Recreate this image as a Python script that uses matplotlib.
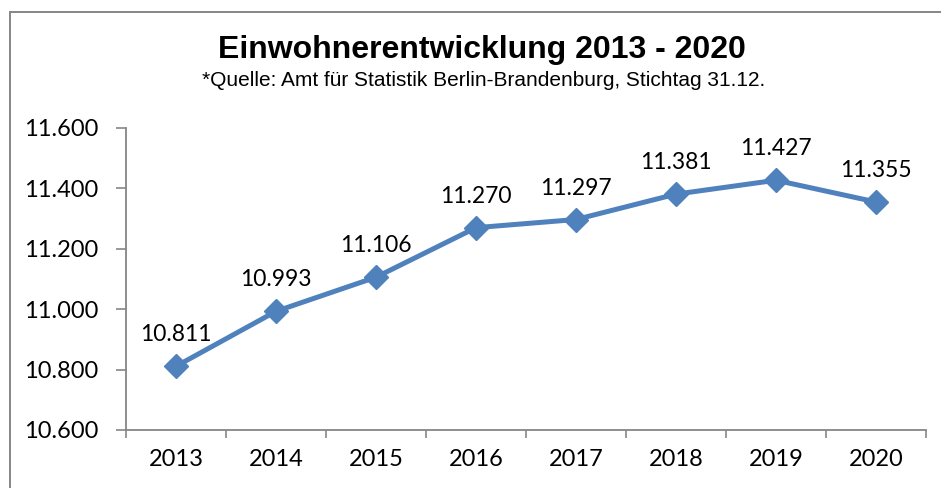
import matplotlib
matplotlib.use('Agg')
import matplotlib.pyplot as plt
from matplotlib.patches import Rectangle

# data
years = ['2013', '2014', '2015', '2016', '2017', '2018', '2019', '2020']
einwohner = [10811, 10993, 11106, 11270, 11297, 11381, 11427, 11355]
y_ticks = [10600, 10800, 11000, 11200, 11400, 11600]

W, H = 941, 488
fig = plt.figure(figsize=(W / 100, H / 100), dpi=100)
# axes placed in pixel terms: x 126..926, y 128..430
ax = fig.add_axes([126 / W, 1 - 430 / H, 800 / W, 302 / H])

grey = '#868686'
blue = '#4F81BD'
num_font = 'Lato'

x = list(range(len(years)))
ax.plot(x, einwohner, color=blue, lw=3.6, marker='D', ms=12, zorder=3)

def de(v):
    return f'{v:,}'.replace(',', '.')

for xi, v in zip(x, einwohner):
    ax.annotate(de(v), (xi, v), xytext=(0, 15), textcoords='offset points',
                ha='center', va='bottom', fontsize=16.5, family=num_font)

ax.set_xlim(-0.5, len(years) - 0.5)
ax.set_ylim(10600, 11600)
ax.set_yticks(y_ticks)
ax.set_yticklabels([de(t) for t in y_ticks], family=num_font, fontsize=17)
ax.set_xticks(x)
ax.set_xticklabels(years, family=num_font, fontsize=17)
# category ticks sit between the labels
ax.set_xticks([i - 0.5 for i in range(len(years) + 1)], minor=True)
ax.tick_params(axis='x', which='major', length=0, pad=14)
ax.tick_params(axis='x', which='minor', length=6, color=grey, width=1.2, direction='out')
ax.tick_params(axis='y', length=7, color=grey, width=1.2, pad=13)

for s in ['top', 'right']:
    ax.spines[s].set_visible(False)
for s in ['left', 'bottom']:
    ax.spines[s].set_color(grey)
    ax.spines[s].set_linewidth(1.3)

fig.text(482 / W, 1 - 50 / H, 'Einwohnerentwicklung 2013 - 2020', ha='center', va='center',
         fontsize=23, fontweight='bold', family='Liberation Sans')
fig.text(484 / W, 1 - 81 / H, '*Quelle: Amt für Statistik Berlin-Brandenburg, Stichtag 31.12.',
         ha='center', va='center', fontsize=15, family='Liberation Sans')

# outer chart frame
fig.patches.append(Rectangle((10 / W, -0.1), 1.0, 1 - 12.5 / H + 0.1, transform=fig.transFigure,
                             fill=False, edgecolor=grey, lw=1.4))

fig.savefig('out.png', dpi=100)
